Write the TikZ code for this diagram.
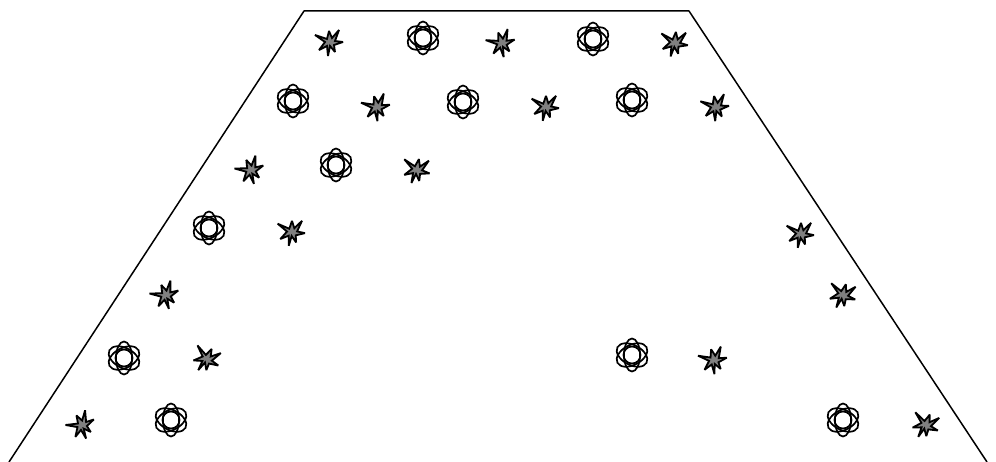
\documentclass[tikz,border=0pt]{standalone}
\tikzset{
  frameline/.style={black,line width=1.5pt,line join=round},
  starshape/.style={draw=black,fill=gray,line width=1.8pt,line join=miter,miter limit=3},
  flowerline/.style={draw=black,line width=1.7pt}
}
\newcommand{\starmark}[3]{%
  \draw[starshape,shift={(#1,#2)},rotate=#3]
    (-15,-7) -- (-3,-3) -- (-1,-11) -- (2,-4) -- (9,-12) -- (5,-1) -- (13,0)
    -- (4,3) -- (5,10) -- (0,4) -- (-2,14) -- (-3,4) -- (-11,8) -- (-5,0) -- cycle;}
\newcommand{\flowermark}[2]{%
  \begin{scope}[shift={(#1,#2)}]
    \draw[flowerline] (0,0) circle[radius=8.5];
    \draw[flowerline] (0,0) ellipse[x radius=8,y radius=16.5];
    \draw[flowerline,rotate=62] (0,0) ellipse[x radius=10,y radius=16.5];
    \draw[flowerline,rotate=-62] (0,0) ellipse[x radius=10,y radius=16.5];
  \end{scope}}
\begin{document}
\begin{tikzpicture}[x=1pt,y=-1pt]
\useasboundingbox (0,0) rectangle (996,462);
\draw[frameline] (9,462) -- (304,11) -- (689,11) -- (987,462);
\foreach \x/\y/\r in {330/42/0,502/43/15,675/43/-10,377/107/10,546/107/-5,716/107/5,251/170/20,417/170/-15,292/232/-5,801/234/-5,166/295/20,843/295/-20,207/359/-30,714/360/10,82/425/25,926/425/-25}
  {\starmark{\x}{\y}{\r}}
\foreach \x/\y in {423/38,593/39,293/101,463/102,632/100,336/165,209/228,124/358,632/355,171/420,843/420}
  {\flowermark{\x}{\y}}
\end{tikzpicture}
\end{document}
